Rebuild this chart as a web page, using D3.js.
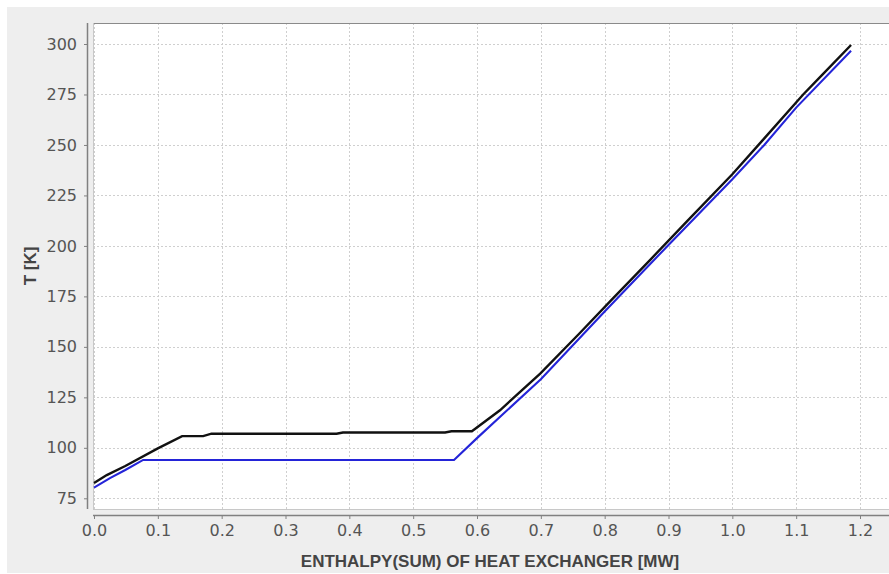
<!DOCTYPE html>
<html>
<head>
<meta charset="utf-8">
<script src="https://cdn.jsdelivr.net/npm/d3@7"></script>
<style>
  html, body { margin: 0; padding: 0; background: #ffffff; }
  #chart { width: 889px; height: 574px; }
</style>
</head>
<body>
<div id="chart"></div>
<script>
// hot / cold composite curves of the heat exchanger
const hotEnthalpy = [0, 0.02, 0.049, 0.10, 0.138, 0.171, 0.184, 0.38, 0.39, 0.55, 0.56, 0.592, 0.636, 0.699, 0.76, 0.81, 0.871, 0.93, 1.0, 1.048, 1.111, 1.14, 1.186];
const hotTemp     = [82.6, 86.5, 91, 99.7, 105.8, 105.8, 107, 107, 107.6, 107.6, 108.2, 108.2, 118.6, 136.8, 156.5, 173, 193, 212.5, 235.5, 252.5, 275, 284.5, 299.5];

const coldEnthalpy = [0, 0.025, 0.049, 0.077, 0.564, 0.60, 0.70, 0.80, 0.90, 1.0, 1.05, 1.10, 1.186];
const coldTemp     = [80.3, 85, 89, 94, 94, 104.8, 134, 167.5, 200.5, 233, 250, 268.5, 296.7];

const xTicks = [0, 0.1, 0.2, 0.3, 0.4, 0.5, 0.6, 0.7, 0.8, 0.9, 1.0, 1.1, 1.2];
const yTicks = [75, 100, 125, 150, 175, 200, 225, 250, 275, 300];

(function () {
  const W = 889, H = 574;
  // plot area (white box)
  const plot = { left: 93, top: 23, right: 889, bottom: 509 };

  const svg = d3.select("#chart")
    .append("svg")
    .attr("width", W)
    .attr("height", H)
    .style("display", "block");

  // grey panel
  svg.append("rect")
    .attr("x", 7).attr("y", 7)
    .attr("width", W - 7).attr("height", 566)
    .attr("fill", "#eeeeee");

  const x = d3.scaleLinear().domain([0, 1.2]).range([94, 860]);
  const y = d3.scaleLinear().domain([75, 300]).range([498.3, 44]);

  svg.append("rect")
    .attr("x", plot.left).attr("y", plot.top)
    .attr("width", plot.right - plot.left)
    .attr("height", plot.bottom - plot.top)
    .attr("fill", "#ffffff");

  svg.append("defs").append("clipPath").attr("id", "clip")
    .append("rect")
    .attr("x", plot.left).attr("y", plot.top)
    .attr("width", plot.right - plot.left)
    .attr("height", plot.bottom - plot.top);

  // grid
  const grid = svg.append("g")
    .attr("stroke", "#cfcfcf")
    .attr("stroke-width", 1)
    .attr("stroke-dasharray", "2,2");

  grid.selectAll(".gx").data(xTicks).join("line")
    .attr("x1", d => Math.round(x(d)) + 0.5).attr("x2", d => Math.round(x(d)) + 0.5)
    .attr("y1", plot.top).attr("y2", plot.bottom);

  grid.selectAll(".gy").data(yTicks).join("line")
    .attr("y1", d => Math.round(y(d)) + 0.5).attr("y2", d => Math.round(y(d)) + 0.5)
    .attr("x1", plot.left).attr("x2", plot.right);

  // plot outline
  svg.append("line")
    .attr("x1", plot.left).attr("x2", plot.right)
    .attr("y1", plot.top + 0.5).attr("y2", plot.top + 0.5)
    .attr("stroke", "#8a8a8a");
  svg.append("line")
    .attr("x1", plot.left + 0.5).attr("x2", plot.left + 0.5)
    .attr("y1", plot.top).attr("y2", plot.bottom)
    .attr("stroke", "#c8c8c8");
  svg.append("line")
    .attr("x1", plot.left).attr("x2", plot.right)
    .attr("y1", plot.bottom + 0.5).attr("y2", plot.bottom + 0.5)
    .attr("stroke", "#c8c8c8");

  // axes, offset from the plot like JFreeChart
  const xAxis = svg.append("g")
    .attr("transform", "translate(0,515)")
    .call(d3.axisBottom(x).tickValues(xTicks).tickFormat(d3.format(".1f")).tickSize(4).tickPadding(6))
    .call(g => g.select(".domain").remove());
  xAxis.append("line")
    .attr("x1", plot.left).attr("x2", plot.right)
    .attr("y1", 0.5).attr("y2", 0.5)
    .attr("stroke", "#808080").attr("stroke-width", 1.5);

  const yAxis = svg.append("g")
    .attr("transform", "translate(88,0)")
    .call(d3.axisLeft(y).tickValues(yTicks).tickSize(4).tickPadding(7))
    .call(g => g.select(".domain").remove());
  yAxis.append("line")
    .attr("x1", -0.5).attr("x2", -0.5)
    .attr("y1", plot.top).attr("y2", plot.bottom)
    .attr("stroke", "#808080").attr("stroke-width", 1.5);

  svg.selectAll(".tick line").attr("stroke", "#808080");
  svg.selectAll(".tick text")
    .style("font-family", "DejaVu Sans, sans-serif")
    .style("font-size", "16px")
    .attr("fill", "#555555");

  // axis titles
  svg.append("text")
    .attr("x", 490)
    .attr("y", 567)
    .attr("text-anchor", "middle")
    .style("font-family", "Liberation Sans, Arial, sans-serif")
    .style("font-weight", "bold")
    .style("font-size", "17px")
    .attr("fill", "#444444")
    .text("ENTHALPY(SUM) OF HEAT EXCHANGER [MW]");

  svg.append("text")
    .attr("transform", "translate(36,266) rotate(-90)")
    .attr("text-anchor", "middle")
    .style("font-family", "Liberation Sans, Arial, sans-serif")
    .style("font-weight", "bold")
    .style("font-size", "17px")
    .attr("fill", "#444444")
    .text("T [K]");

  // curves
  const line = d3.line()
    .x(d => x(d[0]))
    .y(d => y(d[1]));

  const hot = hotEnthalpy.map((h, i) => [h, hotTemp[i]]);
  const cold = coldEnthalpy.map((h, i) => [h, coldTemp[i]]);

  const curves = svg.append("g").attr("clip-path", "url(#clip)");

  curves.append("path")
    .datum(hot)
    .attr("fill", "none")
    .attr("stroke", "#111111")
    .attr("stroke-width", 2.4)
    .attr("d", line);

  curves.append("path")
    .datum(cold)
    .attr("fill", "none")
    .attr("stroke", "#2424d8")
    .attr("stroke-width", 2.1)
    .attr("d", line);
})();
</script>
</body>
</html>
